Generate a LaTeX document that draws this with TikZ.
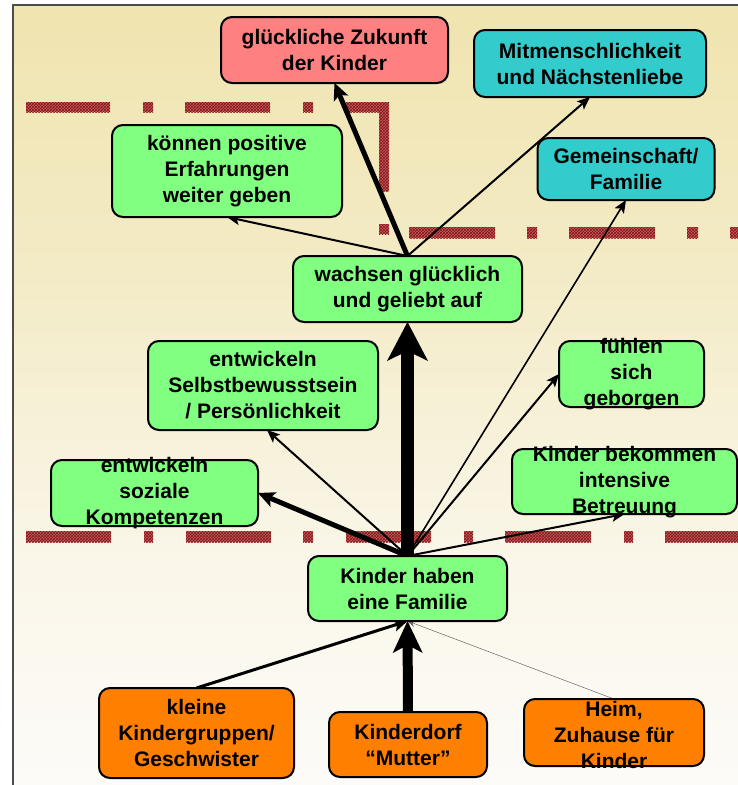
\documentclass[tikz,border=0pt]{standalone}
\usepackage{fontspec}
\setmainfont{Liberation Sans}
\usetikzlibrary{arrows.meta,patterns,calc}
\definecolor{boxgreen}{RGB}{128,255,128}
\definecolor{boxcyan}{RGB}{51,204,204}
\definecolor{boxred}{RGB}{255,128,128}
\definecolor{boxorange}{RGB}{255,128,0}
\definecolor{dashlight}{RGB}{188,98,92}
\definecolor{dashdark}{RGB}{140,15,25}
\definecolor{bgT}{RGB}{240,228,175}
\definecolor{bgTT}{RGB}{243,235,198}
\definecolor{bgM}{RGB}{250,246,232}
\definecolor{bgB}{RGB}{252,251,248}
\pgfdeclareverticalshading{bgsh}{100bp}{color(0bp)=(bgB); color(25bp)=(bgB); color(40bp)=(bgM); color(58bp)=(bgTT); color(75bp)=(bgT); color(100bp)=(bgT)}
\pgfdeclarelayer{back}
\pgfdeclarelayer{mid}
\pgfsetlayers{back,mid,main}
\begin{document}
\begin{tikzpicture}[x=1pt,y=-1pt,
  box/.style={draw=black, line width=2pt, rounded corners=11pt, inner sep=0pt, outer sep=0pt},
  lbl/.style={font=\fontsize{21}{26}\selectfont\bfseries, align=center, inner sep=0pt, text=black},
  dashbar/.style={fill=dashlight, postaction={pattern=crosshatch, pattern color=dashdark}},
  thin/.style={line width=2pt, -{Stealth[length=13pt,width=11pt,inset=3pt,line width=0pt]}},
  mediumarr/.style={line width=5pt, -{Stealth[length=17pt,width=16pt,inset=4pt,line width=0pt]}}
]
\useasboundingbox (0,0) rectangle (738,785);

% nodes (boxes)
\node[box, fill=boxred, minimum width=227pt, minimum height=66pt] (rot) at (334.5,50) {};
\node[lbl] at (rot) {glückliche Zukunft\\der Kinder};
\node[box, fill=boxcyan, minimum width=232pt, minimum height=67pt] (mit) at (590,63.5) {};
\node[lbl] at (mit) {Mitmenschlichkeit\\und Nächstenliebe};
\node[box, fill=boxgreen, minimum width=230pt, minimum height=92pt] (kon) at (227,171) {};
\node[lbl] at (kon) {können positive\\Erfahrungen\\weiter geben};
\node[box, fill=boxcyan, minimum width=177pt, minimum height=62pt] (gem) at (626,169) {};
\node[lbl] at (gem) {Gemeinschaft/\\Familie};
\node[box, fill=boxgreen, minimum width=229pt, minimum height=66pt] (wach) at (407.5,289) {};
\node[lbl] at (wach) {wachsen glücklich\\und geliebt auf};
\node[box, fill=boxgreen, minimum width=230pt, minimum height=89pt] (sel) at (263,385.5) {};
\node[lbl] at (sel) {entwickeln\\Selbstbewusstsein\\/ Persönlichkeit};
\node[box, fill=boxgreen, minimum width=145pt, minimum height=66pt] (fuh) at (631.5,374) {};
\node[lbl] at (fuh) {fühlen\\sich\\geborgen};
\node[box, fill=boxgreen, minimum width=225pt, minimum height=65pt] (bet) at (624.5,481.5) {};
\node[lbl] at ($(bet)+(0,1)$) {Kinder bekommen\\intensive\\Betreuung};
\node[box, fill=boxgreen, minimum width=207pt, minimum height=66pt] (soz) at (154.5,493) {};
\node[lbl] at (soz) {entwickeln\\soziale\\Kompetenzen};
\node[box, fill=boxgreen, minimum width=199pt, minimum height=65pt] (fam) at (407.5,588.5) {};
\node[lbl] at (fam) {Kinder haben\\eine Familie};
\node[box, fill=boxorange, minimum width=195pt, minimum height=90pt] (kl) at (196.5,733) {};
\node[lbl] at (kl) {kleine\\Kindergruppen/\\Geschwister};
\node[box, fill=boxorange, minimum width=158pt, minimum height=65pt] (dorf) at (408,744.5) {};
\node[lbl] at (dorf) {Kinderdorf\\“Mutter”};
\node[box, fill=boxorange, minimum width=180pt, minimum height=67pt] (heim) at (614,732.5) {};
\node[lbl] at ($(heim)+(0,2)$) {Heim,\\Zuhause für\\Kinder};

% background and dashed separators
\begin{pgfonlayer}{back}
\fill[white] (0,0) rectangle (738,785);
\shade[shading=bgsh] (13,5) rectangle (745,790);
\draw[line width=1.5pt, draw=black!70] (13,790) -- (13,5) -- (745,5);
\foreach \a/\b in {26/110,143/153,185/270,303/313,346/389}
  \path[dashbar] (\a,102) rectangle (\b,112);
\path[dashbar] (379,112) rectangle (389,191);
\path[dashbar] (379,224) rectangle (389,234);
\foreach \a/\b in {409/495,527/537,569/655,687/698,730/745}
  \path[dashbar] (\a,227) rectangle (\b,238);
\foreach \a/\b in {26/111,144/153,186/271,303/313,346/431,464/473,505/591,624/633,665/745}
  \path[dashbar] (\a,531) rectangle (\b,542);
\end{pgfonlayer}

% connectors
\begin{pgfonlayer}{mid}
\draw[mediumarr] (wach.north) -- (rot.south);
\draw[thin] (wach.north) -- (kon.south);
\draw[thin] (wach.north) -- (mit.south);
\draw[thin, line width=1.6pt] (fam.north) -- (gem.south);
\draw[line width=13pt, -{Stealth[length=39pt,width=41pt,inset=10pt,line width=0pt]}] (fam.north) -- (wach.south);
\draw[thin] (fam.north) -- ($(sel.south)+(4,0)$);
\draw[mediumarr] (fam.north) -- (soz.east);
\draw[thin] (fam.north) -- (fuh.west);
\draw[thin] (fam.north) -- (bet.south);
\draw[line width=3pt, -{Stealth[length=14pt,width=13pt,inset=3pt,line width=0pt]}] (kl.north) -- (fam.south);
\draw[line width=10pt, -{Stealth[length=32pt,width=30pt,inset=8pt,line width=0pt]}] (dorf.north) -- (fam.south);
\draw[line width=0.5pt, draw=black!60, -{Stealth[length=8pt,width=7pt,line width=0pt]}] (heim.north) -- (fam.south);
\end{pgfonlayer}
\end{tikzpicture}
\end{document}
